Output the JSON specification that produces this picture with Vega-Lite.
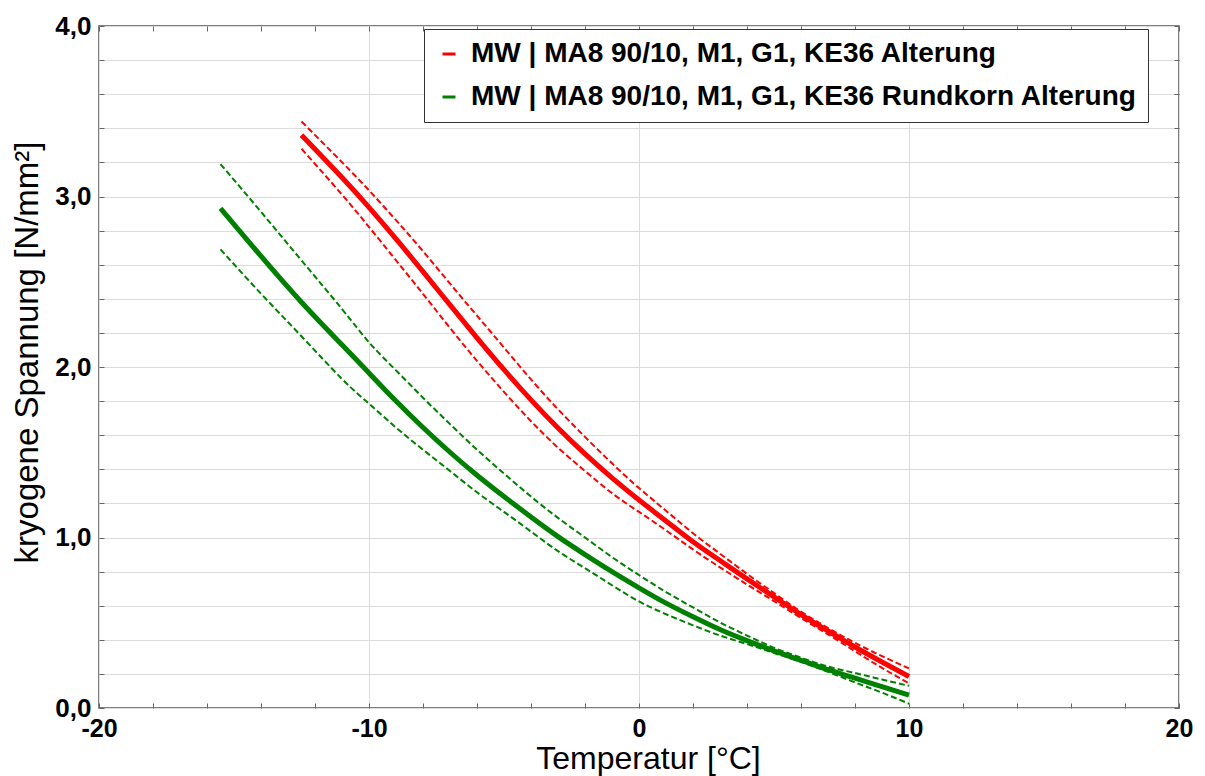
{
  "$schema": "https://vega.github.io/schema/vega-lite/v6.json",
  "width": 1080,
  "height": 682,
  "autosize": {"type": "none"},
  "padding": {"left": 99, "top": 26, "right": 26, "bottom": 68},
  "background": "white",
  "data": {
    "values": [
      {"series": "MW | MA8 90/10, M1, G1, KE36 Alterung", "T": -12.5, "MW": 3.36, "oben": 3.44, "unten": 3.28},
      {"series": "MW | MA8 90/10, M1, G1, KE36 Alterung", "T": -11, "MW": 3.111, "oben": 3.201, "unten": 3.011},
      {"series": "MW | MA8 90/10, M1, G1, KE36 Alterung", "T": -10, "MW": 2.936, "oben": 3.036, "unten": 2.821},
      {"series": "MW | MA8 90/10, M1, G1, KE36 Alterung", "T": -9, "MW": 2.751, "oben": 2.861, "unten": 2.626},
      {"series": "MW | MA8 90/10, M1, G1, KE36 Alterung", "T": -8, "MW": 2.559, "oben": 2.679, "unten": 2.429},
      {"series": "MW | MA8 90/10, M1, G1, KE36 Alterung", "T": -7, "MW": 2.364, "oben": 2.489, "unten": 2.229},
      {"series": "MW | MA8 90/10, M1, G1, KE36 Alterung", "T": -6, "MW": 2.171, "oben": 2.301, "unten": 2.036},
      {"series": "MW | MA8 90/10, M1, G1, KE36 Alterung", "T": -5, "MW": 1.984, "oben": 2.114, "unten": 1.854},
      {"series": "MW | MA8 90/10, M1, G1, KE36 Alterung", "T": -4, "MW": 1.807, "oben": 1.927, "unten": 1.682},
      {"series": "MW | MA8 90/10, M1, G1, KE36 Alterung", "T": -3, "MW": 1.642, "oben": 1.752, "unten": 1.527},
      {"series": "MW | MA8 90/10, M1, G1, KE36 Alterung", "T": -2, "MW": 1.49, "oben": 1.59, "unten": 1.39},
      {"series": "MW | MA8 90/10, M1, G1, KE36 Alterung", "T": -1, "MW": 1.35, "oben": 1.435, "unten": 1.26},
      {"series": "MW | MA8 90/10, M1, G1, KE36 Alterung", "T": 0, "MW": 1.22, "oben": 1.29, "unten": 1.15},
      {"series": "MW | MA8 90/10, M1, G1, KE36 Alterung", "T": 1, "MW": 1.097, "oben": 1.157, "unten": 1.042},
      {"series": "MW | MA8 90/10, M1, G1, KE36 Alterung", "T": 2, "MW": 0.975, "oben": 1.025, "unten": 0.93},
      {"series": "MW | MA8 90/10, M1, G1, KE36 Alterung", "T": 3, "MW": 0.865, "oben": 0.905, "unten": 0.825},
      {"series": "MW | MA8 90/10, M1, G1, KE36 Alterung", "T": 4, "MW": 0.757, "oben": 0.787, "unten": 0.724},
      {"series": "MW | MA8 90/10, M1, G1, KE36 Alterung", "T": 5, "MW": 0.652, "oben": 0.674, "unten": 0.627},
      {"series": "MW | MA8 90/10, M1, G1, KE36 Alterung", "T": 6, "MW": 0.548, "oben": 0.565, "unten": 0.528},
      {"series": "MW | MA8 90/10, M1, G1, KE36 Alterung", "T": 7, "MW": 0.452, "oben": 0.469, "unten": 0.432},
      {"series": "MW | MA8 90/10, M1, G1, KE36 Alterung", "T": 8, "MW": 0.358, "oben": 0.382, "unten": 0.333},
      {"series": "MW | MA8 90/10, M1, G1, KE36 Alterung", "T": 9, "MW": 0.27, "oben": 0.304, "unten": 0.235},
      {"series": "MW | MA8 90/10, M1, G1, KE36 Alterung", "T": 10, "MW": 0.185, "oben": 0.232, "unten": 0.145},
      {"series": "MW | MA8 90/10, M1, G1, KE36 Rundkorn Alterung", "T": -15.5, "MW": 2.93, "oben": 3.19, "unten": 2.69},
      {"series": "MW | MA8 90/10, M1, G1, KE36 Rundkorn Alterung", "T": -14, "MW": 2.65, "oben": 2.91, "unten": 2.43},
      {"series": "MW | MA8 90/10, M1, G1, KE36 Rundkorn Alterung", "T": -12.5, "MW": 2.38, "oben": 2.625, "unten": 2.18},
      {"series": "MW | MA8 90/10, M1, G1, KE36 Rundkorn Alterung", "T": -11, "MW": 2.13, "oben": 2.34, "unten": 1.93},
      {"series": "MW | MA8 90/10, M1, G1, KE36 Rundkorn Alterung", "T": -10, "MW": 1.965, "oben": 2.145, "unten": 1.785},
      {"series": "MW | MA8 90/10, M1, G1, KE36 Rundkorn Alterung", "T": -9, "MW": 1.80, "oben": 1.98, "unten": 1.645},
      {"series": "MW | MA8 90/10, M1, G1, KE36 Rundkorn Alterung", "T": -8, "MW": 1.645, "oben": 1.82, "unten": 1.515},
      {"series": "MW | MA8 90/10, M1, G1, KE36 Rundkorn Alterung", "T": -7, "MW": 1.50, "oben": 1.665, "unten": 1.39},
      {"series": "MW | MA8 90/10, M1, G1, KE36 Rundkorn Alterung", "T": -6, "MW": 1.365, "oben": 1.515, "unten": 1.265},
      {"series": "MW | MA8 90/10, M1, G1, KE36 Rundkorn Alterung", "T": -5, "MW": 1.24, "oben": 1.375, "unten": 1.15},
      {"series": "MW | MA8 90/10, M1, G1, KE36 Rundkorn Alterung", "T": -4, "MW": 1.12, "oben": 1.24, "unten": 1.035},
      {"series": "MW | MA8 90/10, M1, G1, KE36 Rundkorn Alterung", "T": -3, "MW": 1.005, "oben": 1.115, "unten": 0.92},
      {"series": "MW | MA8 90/10, M1, G1, KE36 Rundkorn Alterung", "T": -2, "MW": 0.90, "oben": 1.00, "unten": 0.82},
      {"series": "MW | MA8 90/10, M1, G1, KE36 Rundkorn Alterung", "T": -1, "MW": 0.80, "oben": 0.885, "unten": 0.72},
      {"series": "MW | MA8 90/10, M1, G1, KE36 Rundkorn Alterung", "T": 0, "MW": 0.705, "oben": 0.78, "unten": 0.625},
      {"series": "MW | MA8 90/10, M1, G1, KE36 Rundkorn Alterung", "T": 1, "MW": 0.615, "oben": 0.68, "unten": 0.55},
      {"series": "MW | MA8 90/10, M1, G1, KE36 Rundkorn Alterung", "T": 2, "MW": 0.535, "oben": 0.59, "unten": 0.485},
      {"series": "MW | MA8 90/10, M1, G1, KE36 Rundkorn Alterung", "T": 3, "MW": 0.46, "oben": 0.502, "unten": 0.425},
      {"series": "MW | MA8 90/10, M1, G1, KE36 Rundkorn Alterung", "T": 4, "MW": 0.395, "oben": 0.425, "unten": 0.375},
      {"series": "MW | MA8 90/10, M1, G1, KE36 Rundkorn Alterung", "T": 5, "MW": 0.335, "oben": 0.353, "unten": 0.323},
      {"series": "MW | MA8 90/10, M1, G1, KE36 Rundkorn Alterung", "T": 6, "MW": 0.28, "oben": 0.295, "unten": 0.27},
      {"series": "MW | MA8 90/10, M1, G1, KE36 Rundkorn Alterung", "T": 7, "MW": 0.225, "oben": 0.243, "unten": 0.212},
      {"series": "MW | MA8 90/10, M1, G1, KE36 Rundkorn Alterung", "T": 8, "MW": 0.175, "oben": 0.205, "unten": 0.15},
      {"series": "MW | MA8 90/10, M1, G1, KE36 Rundkorn Alterung", "T": 9, "MW": 0.125, "oben": 0.167, "unten": 0.09},
      {"series": "MW | MA8 90/10, M1, G1, KE36 Rundkorn Alterung", "T": 10, "MW": 0.075, "oben": 0.13, "unten": 0.025}
    ]
  },
  "layer": [
    {
      "mark": {"type": "line", "strokeWidth": 5, "interpolate": "natural"},
      "encoding": {
        "x": {
          "field": "T", "type": "quantitative",
          "scale": {"domain": [-20, 20], "nice": false, "zero": false},
          "axis": {
            "orient": "bottom",
            "values": [-20, -18, -16, -14, -12, -10, -8, -6, -4, -2, 0, 2, 4, 6, 8, 10, 12, 14, 16, 18, 20],
            "labelExpr": "datum.value % 10 === 0 ? '' + datum.value : ''",
            "labelFont": "Liberation Sans", "labelFontSize": 25, "labelFontWeight": "bold", "labelColor": "black",
            "labelBaseline": "alphabetic", "labelPadding": 33, "labelFlush": false, "labelOverlap": false,
            "grid": true, "gridColor": "#dcdcdc", "gridWidth": 1,
            "gridOpacity": {"condition": {"test": "datum.value % 10 === 0", "value": 1}, "value": 0},
            "ticks": true, "tickSize": -5, "tickColor": "#666",
            "domain": false,
            "title": "Temperatur [°C]",
            "titleFont": "Liberation Sans", "titleFontSize": 32, "titleFontWeight": "normal", "titleColor": "black",
            "titleX": 549, "titleY": 60, "titleBaseline": "alphabetic", "titleAlign": "center"
          }
        },
        "y": {
          "field": "MW", "type": "quantitative",
          "scale": {"domain": [0, 4], "nice": false, "zero": false},
          "axis": {
            "orient": "left",
            "values": [0, 0.2, 0.4, 0.6, 0.8, 1, 1.2, 1.4, 1.6, 1.8, 2, 2.2, 2.4, 2.6, 2.8, 3, 3.2, 3.4, 3.6, 3.8, 4],
            "labelExpr": "datum.value === round(datum.value) ? replace(format(datum.value, '.1f'), '.', ',') : ''",
            "labelFont": "Liberation Sans", "labelFontSize": 26, "labelFontWeight": "bold", "labelColor": "black",
            "labelBaseline": "middle", "labelPadding": 13, "labelFlush": false, "labelOverlap": false,
            "grid": true, "gridColor": "#dcdcdc", "gridWidth": 1,
            "ticks": true, "tickSize": -5, "tickColor": "#666",
            "domain": false,
            "title": "kryogene Spannung [N/mm²]",
            "titleFont": "Liberation Sans", "titleFontSize": 33, "titleFontWeight": "normal", "titleColor": "black",
            "titleAngle": 270, "titleX": -62, "titleY": 326, "titleBaseline": "alphabetic", "titleAlign": "center"
          }
        },
        "color": {
          "field": "series", "type": "nominal",
          "scale": {
            "domain": ["MW | MA8 90/10, M1, G1, KE36 Alterung", "MW | MA8 90/10, M1, G1, KE36 Rundkorn Alterung"],
            "range": ["#ff0000", "#008000"]
          },
          "legend": {
            "orient": "none", "legendX": 325, "legendY": 3, "title": null, "direction": "vertical",
            "symbolType": "stroke", "symbolStrokeWidth": 3, "symbolSize": 169,
            "labelFont": "Liberation Sans", "labelFontSize": 28, "labelFontWeight": "bold", "labelColor": "black",
            "labelLimit": 1000, "labelOffset": 8, "rowPadding": 15, "padding": 11,
            "fillColor": "white", "strokeColor": "#333", "cornerRadius": 0
          }
        }
      }
    },
    {
      "transform": [{"fold": ["oben", "unten"], "as": ["band", "val"]}],
      "mark": {"type": "line", "strokeWidth": 2, "strokeDash": [6, 3], "interpolate": "natural"},
      "encoding": {
        "x": {
          "field": "T", "type": "quantitative",
          "scale": {"domain": [-20, 20], "nice": false, "zero": false},
          "axis": {
            "orient": "top",
            "values": [-20, -18, -16, -14, -12, -10, -8, -6, -4, -2, 0, 2, 4, 6, 8, 10, 12, 14, 16, 18, 20],
            "labels": false, "grid": false, "domain": false,
            "ticks": true, "tickSize": -5, "tickColor": "#666", "title": null
          }
        },
        "y": {
          "field": "val", "type": "quantitative",
          "scale": {"domain": [0, 4], "nice": false, "zero": false},
          "axis": {
            "orient": "right",
            "values": [0, 0.2, 0.4, 0.6, 0.8, 1, 1.2, 1.4, 1.6, 1.8, 2, 2.2, 2.4, 2.6, 2.8, 3, 3.2, 3.4, 3.6, 3.8, 4],
            "labels": false, "grid": false, "domain": false,
            "ticks": true, "tickSize": -5, "tickColor": "#666", "title": null
          }
        },
        "color": {"field": "series", "type": "nominal", "legend": null},
        "detail": {"field": "band", "type": "nominal"}
      }
    }
  ],
  "resolve": {"axis": {"x": "independent", "y": "independent"}},
  "config": {
    "font": "Liberation Sans",
    "view": {"stroke": "#555", "strokeWidth": 1.5}
  }
}
